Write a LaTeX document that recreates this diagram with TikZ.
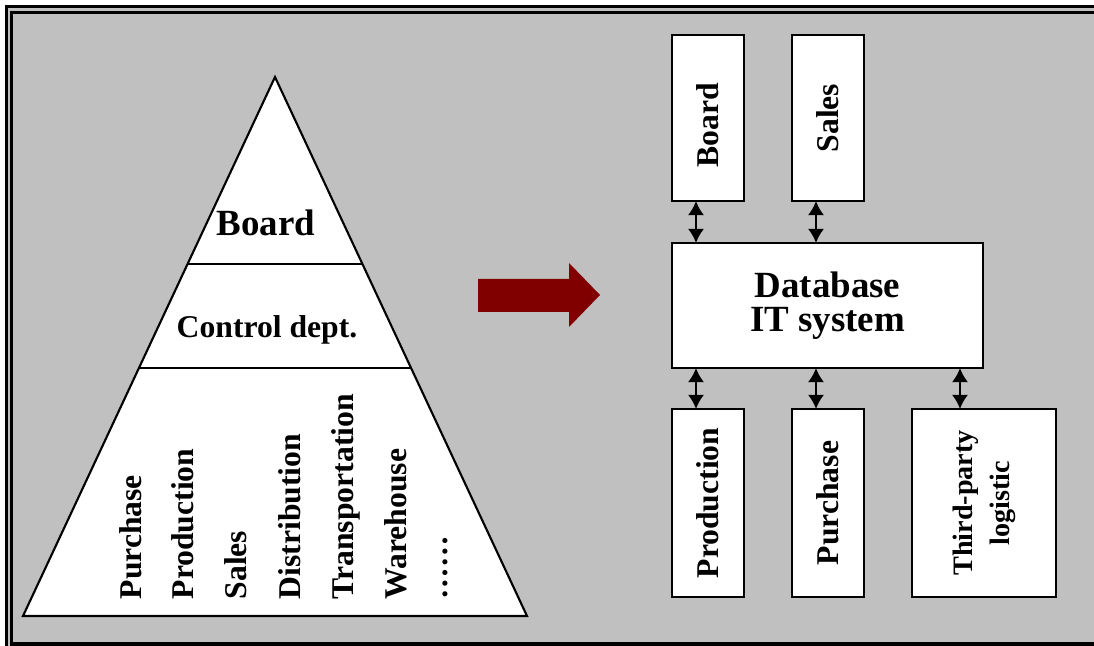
\documentclass[tikz,border=0pt]{standalone}
\usepackage{fontspec}
\setmainfont{Liberation Serif}
\usetikzlibrary{arrows.meta,calc}
\definecolor{panelgray}{HTML}{C0C0C0}
\definecolor{arrowred}{HTML}{800000}
\tikzset{
  unit/.style={draw,line width=0.65pt,fill=white,inner sep=0pt,outer sep=0pt,
    font=\bfseries\fontsize{9}{10}\selectfont},
  link/.style={line width=0.6pt,{Latex[length=4pt,width=4.6pt]}-{Latex[length=4pt,width=4.6pt]}},
  dept/.style={rotate=90,anchor=base west,inner sep=0pt,font=\bfseries\fontsize{9}{10}\selectfont}
}
\begin{document}
\begin{tikzpicture}[x=0.01cm,y=-0.01cm]
\useasboundingbox (0,0) rectangle (1094,646);
\fill[white] (0,0) rectangle (1094,646);
\draw[line width=0.6pt,fill=panelgray] (6.5,6.5) rectangle (1110,660);
\draw[line width=1pt] (11.5,12.5) rectangle (1100,644);

\coordinate (apex) at (275,77);
\coordinate (bl) at (23,616);
\coordinate (br) at (527,616);
\draw[line width=0.6pt,fill=white] (apex) -- (br) -- (bl) -- cycle;
\draw[line width=0.6pt] ($(apex)!0.347!(bl)$) -- ($(apex)!0.347!(br)$);
\draw[line width=0.6pt] ($(apex)!0.54!(bl)$) -- ($(apex)!0.54!(br)$);
\node[font=\bfseries\fontsize{10.5}{12}\selectfont] (top) at (266,223) {Board};
\node[font=\bfseries\fontsize{9}{10}\selectfont] (control) at (267,330) {Control dept.};
\foreach \x/\t [count=\i] in {141.5/Purchase,193.5/Production,246.5/Sales,300/Distribution,
    353/Transportation,406.5/Warehouse,447/……}
  \node[dept] (dept\i) at (\x,600) {\t};

\fill[arrowred] (478,279) -- (569,279) -- (569,263) -- (600,295) -- (569,327) -- (569,312) -- (478,312) -- cycle;

\node[unit,minimum width=0.72cm,minimum height=1.66cm] (board) at (708,118) {\rotatebox{90}{Board\hspace{4pt}}};
\node[unit,minimum width=0.72cm,minimum height=1.66cm] (sales) at (828,118) {\rotatebox{90}{Sales}};
\node[unit,minimum width=3.11cm,minimum height=1.25cm,align=center,
  font=\bfseries\fontsize{10.5}{9.5}\selectfont] (db) at (827.5,305.5) {Database\\IT system};
\node[unit,minimum width=0.72cm,minimum height=1.88cm] (production) at (708,503) {\rotatebox{90}{Production}};
\node[unit,minimum width=0.72cm,minimum height=1.88cm] (purchase) at (828,503) {\rotatebox{90}{Purchase}};
\node[unit,minimum width=1.44cm,minimum height=1.88cm,font=\bfseries\fontsize{8}{10.5}\selectfont] (logistic) at (984,503)
  {\rotatebox{90}{\begin{tabular}{@{}c@{}}Third-party\\logistic\end{tabular}}};

\foreach \n/\s in {board/-0.12cm,sales/-0.12cm} {
  \coordinate (\n-end) at ([xshift=\s]\n.south);
  \draw[link] (\n-end) -- (\n-end |- db.north);
}
\foreach \n/\s in {production/-0.12cm,purchase/-0.12cm,logistic/-0.24cm} {
  \coordinate (\n-end) at ([xshift=\s]\n.north);
  \draw[link] (\n-end |- db.south) -- (\n-end);
}
\end{tikzpicture}
\end{document}
